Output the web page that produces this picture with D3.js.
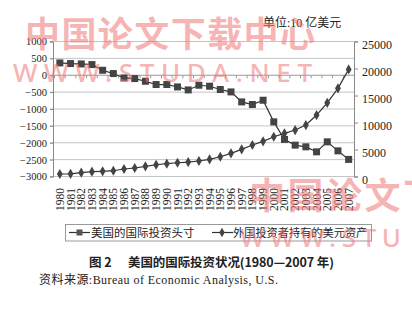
<!DOCTYPE html>
<html><head><meta charset="utf-8">
<script src="https://cdn.jsdelivr.net/npm/d3@7"></script>
<style>html,body{margin:0;padding:0;background:#fff;}svg{display:block;}</style>
</head><body>
<svg id="c" width="412" height="316"></svg>
<script>
const years = ["1980","1981","1982","1983","1984","1985","1986","1987","1988","1989","1990","1991","1992","1993","1994","1995","1996","1997","1998","1999","2000","2001","2002","2003","2004","2005","2006","2007"];
const niip = [365,346,335,316,148,50,-80,-98,-178,-275,-275,-346,-435,-296,-325,-423,-494,-790,-867,-740,-1381,-1902,-2071,-2121,-2269,-1973,-2240,-2494];
const foreignAssets = [460,500,700,890,960,1070,1390,1570,1890,2180,2370,2550,2680,2870,3180,3660,4290,5030,5830,6510,7360,7990,8600,9530,11380,13650,16320,19830];
const leftTicks = [1000,500,0,-500,-1000,-1500,-2000,-2500,-3000];
const rightTicks = [25000,20000,15000,10000,5000,0];
const seriesNames = ["美国的国际投资头寸","外国投资者持有的美元资产"];
const unitText = "单位:10 亿美元";
const titleA = "图 2";
const titleB = "美国的国际投资状况(1980—2007 年)";
const sourceText = "资料来源:Bureau of Economic Analysis, U.S.";

const svg = d3.select("#c");
const L = 53, R = 354, T = 41.5, B = 176.5;
const x = d3.scaleBand().domain(years).range([54.5, R]).padding(0);
const yL = d3.scaleLinear().domain([-3000, 1000]).range([B, T]);
const yR = d3.scaleLinear().domain([0, 25000]).range([B, T]);
const serif = "'Liberation Serif','DejaVu Serif','Noto Sans CJK SC',serif";
const cjk = "'Liberation Serif','Noto Sans CJK SC',serif";

// gridlines
svg.append("g").selectAll("line").data(leftTicks).join("line")
  .attr("x1", L - 3).attr("x2", R).attr("y1", d => yL(d)).attr("y2", d => yL(d))
  .attr("stroke", d => d === 0 ? "#999" : "#c4c4c4").attr("stroke-width", 1);

// left axis
const gl = svg.append("g").attr("transform", `translate(${L},0)`)
  .call(d3.axisLeft(yL).tickValues(leftTicks).tickSize(3).tickPadding(3).tickFormat(d3.format("d")));
gl.select(".domain").attr("stroke", "#888");
gl.selectAll(".tick line").attr("stroke", "#888");
gl.selectAll("text").attr("font-family", serif).attr("font-size", 10.5).attr("fill", "#222");

// right axis
const gr = svg.append("g").attr("transform", `translate(${R},0)`)
  .call(d3.axisRight(yR).tickValues(rightTicks).tickSize(4).tickPadding(4).tickFormat(d3.format("d")));
gr.select(".domain").attr("stroke", "#888");
gr.selectAll(".tick line").attr("stroke", "#888");
gr.selectAll("text").attr("font-family", serif).attr("font-size", 12).attr("fill", "#222").attr("dy", "0.6em");

// category ticks on zero line
svg.append("g").selectAll("line").data(years).join("line")
  .attr("x1", d => x(d)).attr("x2", d => x(d))
  .attr("y1", yL(0)).attr("y2", yL(0) + 3).attr("stroke", "#999");

// x labels
svg.append("g").selectAll("text").data(years).join("text")
  .attr("transform", d => `translate(${x(d) + x.bandwidth() / 2 + 4},188) rotate(-90)`)
  .attr("text-anchor", "end").attr("font-family", serif).attr("font-size", 11.5).attr("fill", "#222")
  .text(d => d);

// series 2 (right axis) diamonds
const line2 = d3.line().x((d, i) => x(years[i]) + x.bandwidth() / 2).y(d => yR(d));
svg.append("path").datum(foreignAssets).attr("d", line2).attr("fill", "none").attr("stroke", "#333").attr("stroke-width", 1.2);
svg.append("g").selectAll("path").data(foreignAssets).join("path")
  .attr("d", d3.symbol().type(d3.symbolDiamond).size(30))
  .attr("transform", (d, i) => `translate(${x(years[i]) + x.bandwidth() / 2},${yR(d)})`)
  .attr("fill", "#444");

// series 1 (left axis) squares
const line1 = d3.line().x((d, i) => x(years[i]) + x.bandwidth() / 2).y(d => yL(d));
svg.append("path").datum(niip).attr("d", line1).attr("fill", "none").attr("stroke", "#333").attr("stroke-width", 1.2);
svg.append("g").selectAll("rect").data(niip).join("rect")
  .attr("x", (d, i) => x(years[i]) + x.bandwidth() / 2 - 3.5).attr("y", d => yL(d) - 3.5)
  .attr("width", 7).attr("height", 7).attr("fill", "#444");

// unit
svg.append("text").attr("x", 263).attr("y", 27).attr("font-family", cjk).attr("font-size", 12).attr("fill", "#222").text(unitText);

// legend
svg.append("rect").attr("x", 65.5).attr("y", 224.5).attr("width", 306).attr("height", 16.5)
  .attr("fill", "#fff").attr("stroke", "#999");
const lg = svg.append("g");
lg.append("line").attr("x1", 69).attr("x2", 90).attr("y1", 232.5).attr("y2", 232.5).attr("stroke", "#333").attr("stroke-width", 1.2);
lg.append("rect").attr("x", 76.5).attr("y", 229.5).attr("width", 6).attr("height", 6).attr("fill", "#555");
lg.append("text").attr("x", 91).attr("y", 237).attr("font-family", cjk).attr("font-size", 11.5).attr("fill", "#222").text(seriesNames[0]);
lg.append("line").attr("x1", 212).attr("x2", 233).attr("y1", 232.5).attr("y2", 232.5).attr("stroke", "#333").attr("stroke-width", 1.2);
lg.append("path").attr("d", d3.symbol().type(d3.symbolDiamond).size(26)).attr("transform", "translate(222,232.5)").attr("fill", "#444");
lg.append("text").attr("x", 233).attr("y", 237).attr("font-family", cjk).attr("font-size", 11.2).attr("fill", "#222").text(seriesNames[1]);

// title
svg.append("text").attr("x", 89).attr("y", 267).attr("font-family", "'Noto Sans CJK SC',sans-serif").attr("font-weight", 700)
  .attr("font-size", 12.5).attr("fill", "#222").text(titleA);
svg.append("text").attr("x", 128).attr("y", 267).attr("font-family", "'Noto Sans CJK SC',sans-serif").attr("font-weight", 700)
  .attr("font-size", 12.5).attr("fill", "#222").attr("textLength", 206).text(titleB);

// source
svg.append("text").attr("x", 39).attr("y", 284).attr("font-family", cjk).attr("font-size", 12).attr("fill", "#222")
  .attr("textLength", 239).text(sourceText);

// watermark
const wm = svg.append("g").attr("fill", "#f07878").attr("opacity", 0.55).attr("font-family", "'Noto Sans CJK SC',sans-serif");
wm.append("text").attr("x", 25).attr("y", 47).attr("font-size", 35).attr("font-weight", 700).attr("textLength", 290).text("中国论文下载中心");
wm.append("text").attr("x", 13).attr("y", 82).attr("font-size", 26).attr("font-family", "'Noto Sans',sans-serif").attr("font-weight", 500).attr("textLength", 299).text("WWW.STUDA.NET");
wm.append("text").attr("x", 249).attr("y", 209).attr("font-size", 36).attr("font-weight", 700).attr("textLength", 190).text("中国论文下");
wm.append("text").attr("x", 240).attr("y", 247).attr("font-size", 26).attr("font-family", "'Noto Sans',sans-serif").attr("font-weight", 500).attr("textLength", 161).text("WWW.STU");
</script>
</body></html>
